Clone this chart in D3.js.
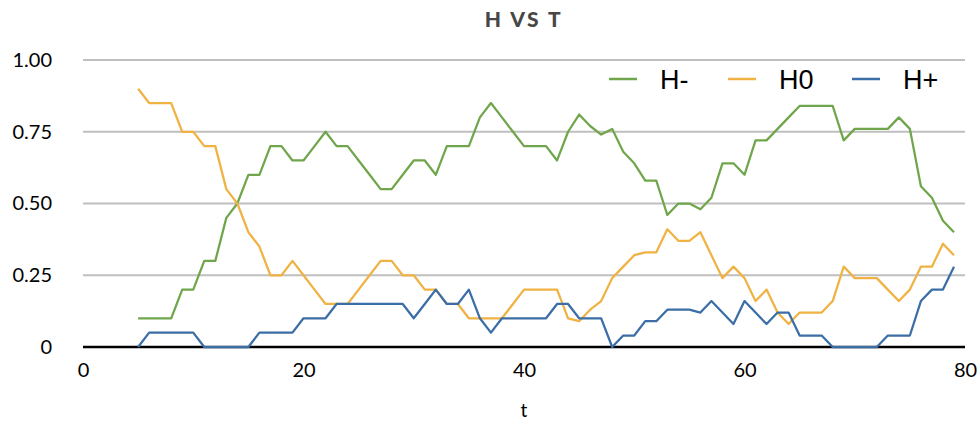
<!DOCTYPE html>
<html>
<head>
<meta charset="utf-8">
<script src="https://cdn.jsdelivr.net/npm/d3@7"></script>
<style>
  html, body { margin: 0; padding: 0; background: #fff; }
  svg { display: block; }
</style>
</head>
<body>
<svg id="chart" width="977" height="423"></svg>
<script>
// time steps t = 5 .. 79
const tValues = [5,6,7,8,9,10,11,12,13,14,15,16,17,18,19,20,21,22,23,24,25,26,27,28,29,30,31,32,33,34,35,36,37,38,39,40,41,42,43,44,45,46,47,48,49,50,51,52,53,54,55,56,57,58,59,60,61,62,63,64,65,66,67,68,69,70,71,72,73,74,75,76,77,78,79];

const hMinus = [0.10,0.10,0.10,0.10,0.20,0.20,0.30,0.30,0.45,0.50,0.60,0.60,0.70,0.70,0.65,0.65,0.70,0.75,0.70,0.70,
                0.65,0.60,0.55,0.55,0.60,0.65,0.65,0.60,0.70,0.70,0.70,0.80,0.85,0.80,0.75,0.70,0.70,0.70,0.65,0.75,
                0.81,0.77,0.74,0.76,0.68,0.64,0.58,0.58,0.46,0.50,0.50,0.48,0.52,0.64,0.64,0.60,0.72,0.72,0.76,0.80,
                0.84,0.84,0.84,0.84,0.72,0.76,0.76,0.76,0.76,0.80,0.76,0.56,0.52,0.44,0.40];

const hZero = [0.90,0.85,0.85,0.85,0.75,0.75,0.70,0.70,0.55,0.50,0.40,0.35,0.25,0.25,0.30,0.25,0.20,0.15,0.15,0.15,
               0.20,0.25,0.30,0.30,0.25,0.25,0.20,0.20,0.15,0.15,0.10,0.10,0.10,0.10,0.15,0.20,0.20,0.20,0.20,0.10,
               0.09,0.13,0.16,0.24,0.28,0.32,0.33,0.33,0.41,0.37,0.37,0.40,0.32,0.24,0.28,0.24,0.16,0.20,0.12,0.08,
               0.12,0.12,0.12,0.16,0.28,0.24,0.24,0.24,0.20,0.16,0.20,0.28,0.28,0.36,0.32];

const hPlus = [0.00,0.05,0.05,0.05,0.05,0.05,0.00,0.00,0.00,0.00,0.00,0.05,0.05,0.05,0.05,0.10,0.10,0.10,0.15,0.15,
               0.15,0.15,0.15,0.15,0.15,0.10,0.15,0.20,0.15,0.15,0.20,0.10,0.05,0.10,0.10,0.10,0.10,0.10,0.15,0.15,
               0.10,0.10,0.10,0.00,0.04,0.04,0.09,0.09,0.13,0.13,0.13,0.12,0.16,0.12,0.08,0.16,0.12,0.08,0.12,0.12,
               0.04,0.04,0.04,0.00,0.00,0.00,0.00,0.00,0.04,0.04,0.04,0.16,0.20,0.20,0.28];

const seriesNames = ["H-", "H0", "H+"];
const seriesColors = ["#70a64b", "#f0b243", "#3b6ea6"];
const xTicks = [0, 20, 40, 60, 80];
const yTicks = [0, 0.25, 0.5, 0.75, 1];
const yTickLabels = ["0", "0.25", "0.50", "0.75", "1.00"];

const svg = d3.select("#chart");
const margin = { left: 83, right: 12, top: 60, bottom: 76 };
const width = 977, height = 423;

const x = d3.scaleLinear().domain([0, 80]).range([margin.left, width - margin.right]);
const y = d3.scaleLinear().domain([0, 1]).range([height - margin.bottom, margin.top]);

const tickFont = "Lato, 'Open Sans', sans-serif";

// horizontal gridlines
svg.append("g")
  .selectAll("line")
  .data(yTicks.filter(d => d > 0))
  .join("line")
  .attr("x1", x(0)).attr("x2", x(80))
  .attr("y1", d => y(d)).attr("y2", d => y(d))
  .attr("stroke", "#bfbfbf")
  .attr("stroke-width", 2);

// y axis labels
const yAxis = d3.axisLeft(y)
  .tickValues(yTicks)
  .tickSize(0)
  .tickPadding(31)
  .tickFormat((d, i) => yTickLabels[i]);
const gy = svg.append("g").attr("transform", `translate(${x(0)},0)`).call(yAxis);
gy.select(".domain").remove();
gy.selectAll("text")
  .attr("font-family", tickFont)
  .attr("font-size", 20)
  .attr("fill", "#000");

// x axis labels
const xAxis = d3.axisBottom(x)
  .tickValues(xTicks)
  .tickSize(0)
  .tickPadding(16)
  .tickFormat(d3.format("d"));
const gx = svg.append("g").attr("transform", `translate(0,${y(0)})`).call(xAxis);
gx.select(".domain").remove();
gx.selectAll("text")
  .attr("font-family", tickFont)
  .attr("font-size", 20)
  .attr("fill", "#000");

// baseline at 0
svg.append("line")
  .attr("x1", x(0)).attr("x2", x(80))
  .attr("y1", y(0)).attr("y2", y(0))
  .attr("stroke", "#000")
  .attr("stroke-width", 2.5);

// series lines
const allSeries = [hMinus, hZero, hPlus];
const line = d3.line()
  .x((d, i) => x(tValues[i]))
  .y(d => y(d));

svg.append("g")
  .selectAll("path")
  .data(allSeries)
  .join("path")
  .attr("d", d => line(d))
  .attr("fill", "none")
  .attr("stroke", (d, i) => seriesColors[i])
  .attr("stroke-width", 2.25)
  .attr("stroke-linejoin", "round");

// title
svg.append("text")
  .attr("x", (x(0) + x(80)) / 2)
  .attr("y", 27)
  .attr("text-anchor", "middle")
  .attr("font-family", tickFont)
  .attr("font-weight", 900)
  .attr("font-size", 21)
  .attr("letter-spacing", 2.5)
  .attr("fill", "#474747")
  .text("H VS T");

// x axis title
svg.append("text")
  .attr("x", (x(0) + x(80)) / 2)
  .attr("y", 417)
  .attr("text-anchor", "middle")
  .attr("font-family", tickFont)
  .attr("font-size", 19)
  .attr("fill", "#000")
  .text("t");

// legend
const legendX = [609, 728, 852];
const legend = svg.append("g")
  .selectAll("g")
  .data(seriesNames)
  .join("g")
  .attr("transform", (d, i) => `translate(${legendX[i]},79)`);
legend.append("line")
  .attr("x1", 0).attr("x2", 28)
  .attr("stroke", (d, i) => seriesColors[i])
  .attr("stroke-width", 2.5);
legend.append("text")
  .attr("x", 51)
  .attr("y", 10)
  .attr("font-family", "'Liberation Sans', Arial, sans-serif")
  .attr("font-size", 27)
  .attr("fill", "#000")
  .text(d => d);
</script>
</body>
</html>
